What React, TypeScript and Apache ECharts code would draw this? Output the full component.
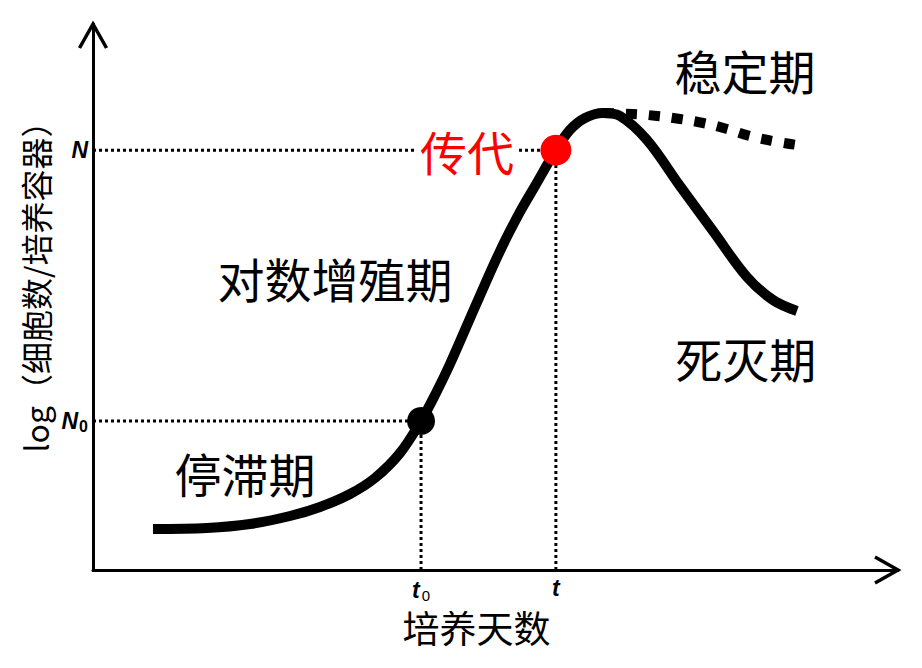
import React, { useEffect, useRef } from 'react';
import * as echarts from 'echarts';

// Growth curve (x: culture days, y: log cell count) (0..100 axis units)
const curveX = [7.45, 14.16, 19.5, 24.47, 28.2, 31.93, 35.03, 38.14, 40.75, 42.61, 44.35, 47.45, 50.56, 53.04, 54.91, 57.5, 59.25, 61.12, 63.35, 65.47, 68.82, 72.92, 77.02, 81.24, 84.47, 87.45];
const curveY = [7.51, 7.69, 8.42, 9.89, 11.54, 13.92, 16.85, 21.43, 27.3, 32.42, 37.73, 48.17, 58.42, 65.57, 70.33, 76.9, 80.59, 82.78, 83.7, 83.15, 78.75, 70.33, 62.09, 53.66, 49.45, 47.44];

// Stationary-phase (dashed) branch
const plateauX = [63.35, 67.08, 70.06, 72.92, 75.78, 78.76, 81.61, 84.47, 87.45];
const plateauY = [83.7, 83.52, 83.15, 82.6, 81.87, 80.77, 79.49, 78.57, 77.84];

// Key values
const t0 = 40.75;
const tP = 57.5;
const N0 = 27.3;
const NP = 76.9;

const xTickValues = [t0, tP];
const yTickValues = [N0, NP];

// Phase labels and their anchors (axis units)
const phaseNames = ['稳定期', '对数增殖期', '停滞期', '死灭期'];
const phaseX = [81.0, 30.06, 18.88, 81.1];
const phaseY = [91.6, 53.66, 17.77, 39.0];

const passageName = '传代';
const passageX = 46.46;
const passageY = NP;

const xName = '培养天数';
const yName = 'log（细胞数/培养容器）';

const CJK = '"Noto Sans CJK SC", "Noto Sans", sans-serif';
const LAT = '"Liberation Sans", Arial, sans-serif';

export default function App() {
  const ref = useRef<HTMLDivElement>(null);
  useEffect(() => {
    if (!ref.current) return;
    const chart = echarts.init(ref.current, undefined, { renderer: 'svg' });
    const dotted = { color: '#000', width: 3, type: [3, 3] as number[] };
    const guide = (pts: number[][]) => ({
      type: 'line',
      data: pts,
      symbol: 'none',
      lineStyle: dotted,
      z: 1,
      silent: true,
    });
    const richTick = {
      i: { fontFamily: LAT, fontStyle: 'italic', fontWeight: 'bold', fontSize: 23, color: '#000' },
      s: { fontFamily: LAT, fontSize: 15, color: '#000', verticalAlign: 'bottom', padding: [12, 0, 0, 2] },
      sb: { fontFamily: LAT, fontSize: 16, fontWeight: 'bold', color: '#000', verticalAlign: 'bottom', padding: [12, 0, 0, 1] },
    };
    const textLabel = {
      show: true,
      position: 'inside',
      formatter: '{b}',
      fontFamily: CJK,
      fontSize: 47,
      color: '#000',
      opacity: 1,
    };
    chart.setOption({
      animation: false,
      backgroundColor: '#fff',
      grid: { left: 93, right: 24, top: 24, bottom: 98 },
      xAxis: {
        type: 'value',
        min: 0,
        max: 100,
        name: xName,
        nameLocation: 'middle',
        nameGap: 38,
        nameTextStyle: { fontFamily: CJK, fontSize: 37, color: '#000', padding: [0, 38, 0, 0] },
        axisLine: { show: true, onZero: false, lineStyle: { color: '#000', width: 3 } },
        axisTick: { show: false },
        splitLine: { show: false },
        axisLabel: {
          customValues: xTickValues,
          margin: 6,
          formatter: (v: number) => (v === t0 ? '{i|t}{s|0}' : '{i|t}'),
          rich: richTick,
        },
      },
      yAxis: {
        type: 'value',
        min: 0,
        max: 100,
        name: yName,
        nameLocation: 'middle',
        nameGap: 40,
        nameTextStyle: { fontFamily: CJK, fontSize: 32, color: '#000', padding: [0, 0, 0, 36] },
        axisLine: { show: true, onZero: false, lineStyle: { color: '#000', width: 3 } },
        axisTick: { show: false },
        splitLine: { show: false },
        axisLabel: {
          customValues: yTickValues,
          margin: 5,
          formatter: (v: number) => (v === N0 ? '{i|N}{sb|0}' : '{i|N}'),
          rich: richTick,
        },
      },
      series: [
        guide([[0, NP], [tP, NP]]),
        guide([[0, N0], [t0, N0]]),
        guide([[t0, 0], [t0, N0]]),
        guide([[tP, 0], [tP, NP]]),
        {
          type: 'line',
          data: plateauX.map((x, i) => [x, plateauY[i]]),
          symbol: 'none',
          smooth: true,
          lineStyle: { color: '#000', width: 10, type: [11, 12], cap: 'butt' },
          z: 2,
          silent: true,
        },
        {
          type: 'line',
          data: curveX.map((x, i) => [x, curveY[i]]),
          symbol: 'none',
          smooth: 0.35,
          lineStyle: { color: '#000', width: 10, cap: 'butt' },
          z: 3,
          silent: true,
        },
        {
          type: 'scatter',
          data: [[t0, N0]],
          symbolSize: 28,
          itemStyle: { color: '#000', opacity: 1 },
          z: 5,
          silent: true,
        },
        {
          type: 'scatter',
          data: [[tP, NP]],
          symbolSize: 31,
          itemStyle: { color: '#ff0000', opacity: 1 },
          z: 5,
          silent: true,
        },
        {
          type: 'scatter',
          data: [{ name: passageName, value: [passageX, passageY] }],
          symbolSize: 1,
          itemStyle: { color: 'rgba(0,0,0,0)', opacity: 1 },
          label: { ...textLabel, color: '#ff0000', backgroundColor: '#fff', padding: [0, 4] },
          z: 4,
          silent: true,
        },
        {
          type: 'scatter',
          data: phaseNames.map((n, i) => ({ name: n, value: [phaseX[i], phaseY[i]] })),
          symbolSize: 1,
          itemStyle: { color: 'rgba(0,0,0,0)', opacity: 1 },
          label: textLabel,
          z: 4,
          silent: true,
        },
      ],
    });
    const xe = chart.convertToPixel({ gridIndex: 0 }, [100, 0]) as number[];
    const ye = chart.convertToPixel({ gridIndex: 0 }, [0, 100]) as number[];
    chart.setOption({
      graphic: [
        {
          type: 'polyline',
          shape: { points: [[xe[0] - 23, xe[1] - 13], [xe[0], xe[1]], [xe[0] - 23, xe[1] + 13]] },
          style: { stroke: '#000', lineWidth: 3.5, fill: null },
          z: 10,
        },
        {
          type: 'polyline',
          shape: { points: [[ye[0] - 13.5, ye[1] + 24], [ye[0], ye[1]], [ye[0] + 13.5, ye[1] + 24]] },
          style: { stroke: '#000', lineWidth: 3.5, fill: null },
          z: 10,
        },
      ],
    });
    return () => chart.dispose();
  }, []);
  return (
    <div
      ref={ref}
      style={{ position: 'fixed', left: 0, top: 0, width: 922, height: 668, background: '#fff' }}
    />
  );
}
